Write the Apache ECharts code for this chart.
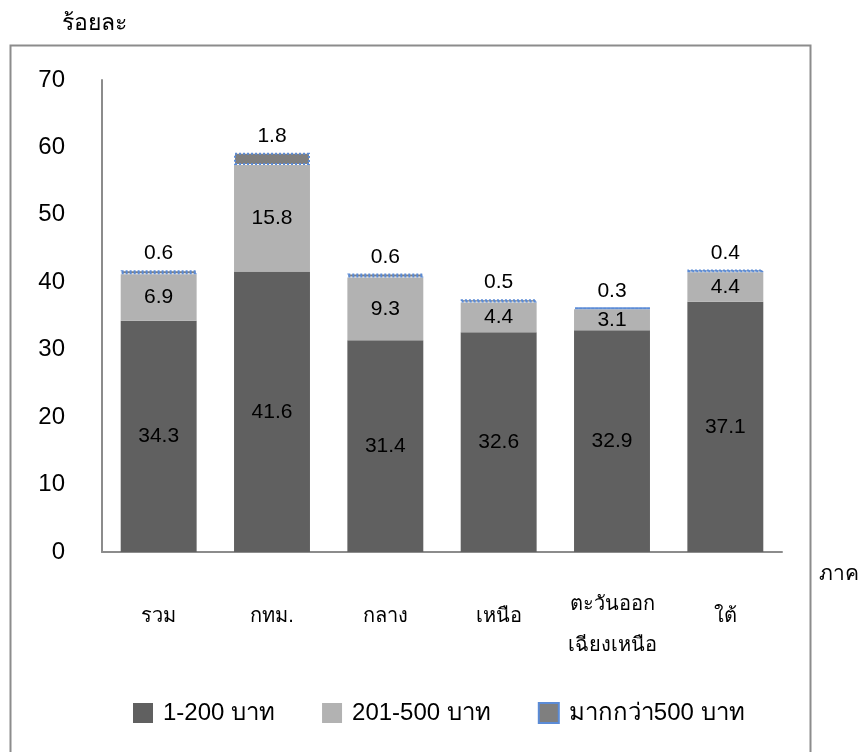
<!DOCTYPE html>
<html><head><meta charset="utf-8">
<script src="https://cdn.jsdelivr.net/npm/echarts@6/dist/echarts.min.js"></script>
<style>html,body{margin:0;padding:0;background:#fff}#c{width:863px;height:752px}</style>
</head><body><div id="c"></div>
<script>
const categories = ['รวม', 'กทม.', 'กลาง', 'เหนือ', 'ตะวันออก\nเฉียงเหนือ', 'ใต้'];
const seriesNames = ['1-200 บาท', '201-500 บาท', 'มากกว่า500 บาท'];
const low = [34.3, 41.6, 31.4, 32.6, 32.9, 37.1];
const mid = [6.9, 15.8, 9.3, 4.4, 3.1, 4.4];
const high = [0.6, 1.8, 0.6, 0.5, 0.3, 0.4];
const yTicks = [0, 10, 20, 30, 40, 50, 60, 70];

const font = "'Liberation Sans', Arial, sans-serif";
const chart = echarts.init(document.getElementById('c'), null, {renderer: 'canvas'});
chart.setOption({
  animation: false,
  textStyle: {fontFamily: font},
  graphic: [
    {type: 'rect', shape: {x: 10.5, y: 45.5, width: 800, height: 710}, style: {fill: 'none', stroke: '#8c8c8c', lineWidth: 2}, z: -1},
    {type: 'text', left: 62, top: 12, style: {text: 'ร้อยละ', font: "23px " + font, fill: '#000'}},
    {type: 'text', left: 819, top: 564, style: {text: 'ภาค', font: "21px " + font, fill: '#000'}}
  ],
  grid: {left: 102, right: 81, top: 80, bottom: 200, containLabel: false},
  legend: {
    left: 128, top: 696, itemWidth: 20, itemHeight: 20, itemGap: 47, icon: 'rect',
    textStyle: {fontSize: 24, color: '#000', fontFamily: font, padding: [0, 0, 0, 5]},
    data: seriesNames
  },
  xAxis: {
    type: 'category', data: categories,
    axisLine: {lineStyle: {color: '#8c8c8c', width: 2}},
    axisTick: {show: false},
    axisLabel: {interval: 0, margin: 64, color: '#000', verticalAlign: 'middle', fontFamily: font,
      formatter: v => v.includes('\n')
        ? '{s|}\n' + v.split('\n').map(p => '{a|' + p + '}').join('\n')
        : '{a|' + v + '}',
      rich: {
        a: {fontSize: 20, lineHeight: 41, color: '#000', fontFamily: font},
        s: {fontSize: 1, lineHeight: 17}
      }}
  },
  yAxis: {
    type: 'value', min: 0, max: 70, interval: 10,
    axisLine: {show: true, lineStyle: {color: '#8c8c8c', width: 2}},
    axisTick: {show: false},
    splitLine: {show: false},
    axisLabel: {margin: 37, fontSize: 24, color: '#000', fontFamily: font,
      formatter: v => yTicks.includes(v) ? String(v) : ''}
  },
  series: [
    {name: seriesNames[0], type: 'bar', stack: 's', data: low, barWidth: '67%',
      itemStyle: {color: '#606060'},
      label: {show: true, position: 'inside', fontSize: 21, color: '#000', fontFamily: font}},
    {name: seriesNames[1], type: 'bar', stack: 's', data: mid,
      itemStyle: {color: '#b2b2b2'},
      label: {show: true, position: 'inside', fontSize: 21, color: '#000', fontFamily: font}},
    {name: seriesNames[2], type: 'bar', stack: 's', data: high,
      itemStyle: {color: '#7f7f7f', borderColor: '#5b8bd6', borderWidth: 2, borderType: 'dotted'},
      label: {show: true, position: 'top', distance: 6, fontSize: 21, color: '#000', fontFamily: font}}
  ]
});
</script></body></html>
